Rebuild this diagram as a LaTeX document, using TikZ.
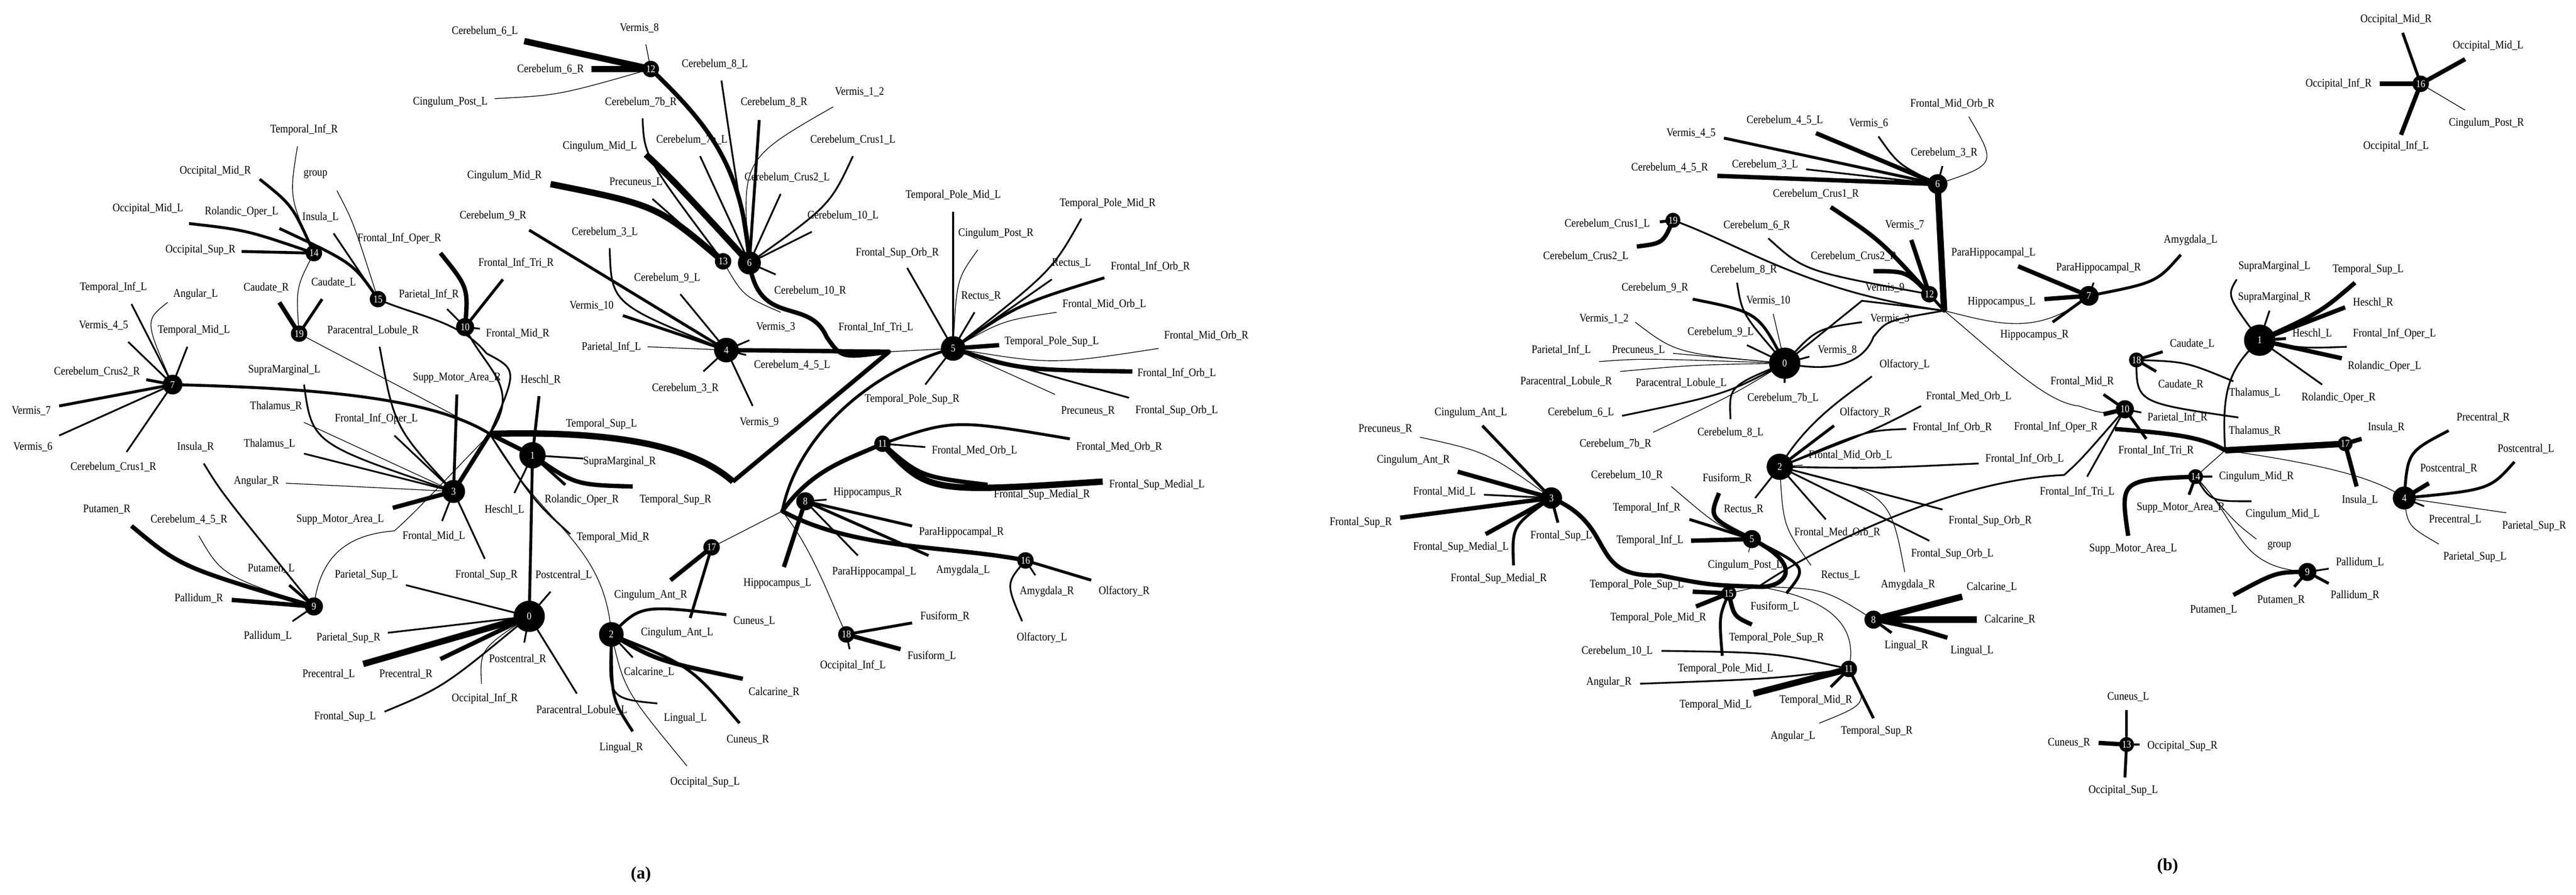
\documentclass[tikz,border=0pt]{standalone}
\usepackage{fontspec}
\setmainfont{Liberation Serif}[FakeStretch=0.88]
\newfontfamily\capf{Liberation Serif}
\pgfdeclarelayer{bg}
\pgfsetlayers{bg,main}
\tikzset{
 c/.style={circle,fill=black,text=white,inner sep=0pt,minimum size=#1*0.1cm,font=\fontsize{18}{18}\selectfont},
 hub/.style={circle,fill=black,inner sep=0pt,minimum size=0.25cm},
 lbl/.style={font=\fontsize{20}{20}\selectfont,inner sep=0pt},
 w0/.style={line width=1.2pt},
 w1/.style={line width=3pt},
 w2/.style={line width=5pt},
 w3/.style={line width=7.5pt},
 w4/.style={line width=11pt},
 w5/.style={line width=15pt},
 line cap=butt
}
\newcounter{lb}
\newcommand\Lb[2]{\stepcounter{lb}\node[lbl] (lb\arabic{lb}) at (#1) {#2};}
\newcommand\Sk[5]{\draw[#5] (#1.center) -- (#2); \Lb{#3}{#4}}
\newcommand\Sc[6]{\draw[#6] (#1.center) .. controls (#2) .. (#3); \Lb{#4}{#5}}
\begin{document}
\catcode`\_=12
\begin{tikzpicture}[x=0.1cm,y=-0.1cm]
\begin{pgfonlayer}{bg}
\fill[white] (0,0) rectangle (1567.5,544.5);
\end{pgfonlayer}
\useasboundingbox (0,0) rectangle (1567.5,544.5);
% ---------------- panel (a) nodes
\node[c=10] (a12) at (396,42) {12};
\node[c=14] (a6) at (456,160) {6};
\node[c=10] (a13) at (440,159) {13};
\node[c=15] (a4) at (442,213) {4};
\node[c=15] (a5) at (580,212) {5};
\node[c=12] (a7) at (105,234) {7};
\node[c=10] (a14) at (191,154) {14};
\node[c=10] (a15) at (230,182) {15};
\node[c=11] (a10) at (283,199) {10};
\node[c=10] (a19) at (182,203) {19};
\node[c=14] (a3) at (276,299) {3};
\node[c=16] (a1) at (324,277) {1};
\node[c=11] (a9) at (191,369) {9};
\node[c=19] (a0) at (322,375) {0};
\node[c=15] (a2) at (372,386) {2};
\node[c=10] (a17) at (433,333) {17};
\node[c=11] (a8) at (490,305) {8};
\node[c=10] (a11) at (537,270) {11};
\node[c=10] (a16) at (624,341) {16};
\node[c=10] (a18) at (515,386) {18};
\node[hub] (hA) at (541,214) {};
\node[hub,minimum size=0.1cm] (vA) at (446,293) {};
\node[hub] (h1) at (298,264) {};
\node[hub] (h8) at (476,311) {};
% ---------------- panel (b) nodes
\node[c=12] (b6) at (1179,112) {6};
\node[c=9] (b19) at (1018,134) {19};
\node[c=10] (b12) at (1174,179) {12};
\node[c=19] (b0) at (1086,221) {0};
\node[c=10] (b16) at (1473,51) {16};
\node[c=12] (b7) at (1271,180) {7};
\node[c=19] (b1) at (1375,207) {1};
\node[c=9] (b18) at (1300,219) {18};
\node[c=11] (b10) at (1293,249) {10};
\node[c=9] (b17) at (1427,270) {17};
\node[c=9] (b14) at (1336,290) {14};
\node[c=14] (b4) at (1463,303) {4};
\node[c=11] (b9) at (1404,348) {9};
\node[c=9] (b13) at (1294,453) {13};
\node[c=13] (b3) at (944,303) {3};
\node[c=16] (b2) at (1083,284) {2};
\node[c=11] (b5) at (1066,328) {5};
\node[c=9] (b15) at (1052,361) {15};
\node[c=11] (b8) at (1140,377) {8};
\node[c=10] (b11) at (1125,407) {11};
\node[hub] (hB) at (1183,189) {};
\node[hub] (hC) at (1354,274) {};
\node[hub] (hD) at (1070,357) {};
\coordinate (tB) at (1287,261);
\node[font=\capf\bfseries\fontsize{30}{30}\selectfont] (capA) at (390,532) {(a)};
\node[font=\capf\bfseries\fontsize{30}{30}\selectfont] (capB) at (1319,527) {(b)};
\begin{pgfonlayer}{bg}
% ====== panel (a) links between clusters
\draw[w3] (a12.center) .. controls (430,75) and (452,100) .. (a6.center);
\draw[w3] (a6.center) .. controls (462,200) and (492,180) .. (503,205) .. controls (512,218) .. (hA.center);
\draw[w3] (a4.center) -- (hA.center);
\draw[w3] (hA.center) -- (vA.center);
\draw[w0] (a5.center) -- (hA.center);
\draw[w4] (vA.center) .. controls (420,270) and (370,262) .. (h1.center);
\draw[w0] (a13.center) .. controls (452,180) .. (475,190);
\draw[w2] (a5.center) .. controls (530,225) and (485,265) .. (h8.center);
\draw[w2] (a7.center) .. controls (180,236) and (260,240) .. (h1.center);
\draw[w3] (a3.center) -- (h1.center);
\draw[w3] (h1.center) -- (a1.center);
\draw[w1] (a10.center) .. controls (295,225) and (318,235) .. (h1.center);
\draw[w1] (a15.center) .. controls (252,192) and (280,195) .. (296,215) .. controls (315,225) .. (h1.center);
\draw[w0] (a19.center) -- (h1.center);
\draw[w0] (a14.center) .. controls (180,175) .. (a19.center);
\draw[w0] (a9.center) .. controls (195,335) and (215,325) .. (240,323) .. controls (252,312) .. (h1.center);
\draw[w0] (h1.center) .. controls (330,320) and (368,330) .. (a2.center);
\draw[w2] (a1.center) .. controls (323,330) .. (a0.center);
\draw[w0] (a17.center) -- (h8.center);
\draw[w3] (h8.center) .. controls (495,285) and (515,280) .. (a11.center);
\draw[w3] (h8.center) .. controls (520,335) and (580,332) .. (a16.center);
\draw[w0] (h8.center) .. controls (495,335) and (505,365) .. (a18.center);
% ====== panel (a) spokes
\Sk{a12}{319,25}{295,19}{Cerebelum_6_L}{w4}
\Sk{a12}{360,42}{335,42}{Cerebelum_6_R}{w4}
\Sc{a12}{340,58}{301,60}{274,62}{Cingulum_Post_L}{w0}
\Sk{a12}{393,27}{389,17}{Vermis_8}{w0}
\Lb{435,39}{Cerebelum_8_L}
\Sc{a6}{445,90}{439,49}{431,39}{}{w1}
\Sk{a6}{462,73}{471,62}{Cerebelum_8_R}{w2}
\Sc{a6}{451,97}{507,65}{523,56}{Vermis_1_2}{w0}
\Sc{a6}{505,125}{519,95}{519,85}{Cerebelum_Crus1_L}{w1}
\Sk{a6}{475,118}{479,108}{Cerebelum_Crus2_L}{w1}
\Sk{a6}{494,141}{513,131}{Cerebelum_10_L}{w1}
\Sk{a6}{472,167}{493,177}{Cerebelum_10_R}{w1}
\Sk{a6}{426,95}{421,85}{Cerebelum_7b_L}{w1}
\Sc{a6}{410,110}{393,94}{365,89}{Cingulum_Mid_L}{w4}
\Sc{a13}{392,95}{391,72}{390,62}{Cerebelum_7b_R}{w1}
\Sk{a13}{397,121}{387,111}{Precuneus_L}{w1}
\Sc{a13}{400,125}{335,112}{307,107}{Cingulum_Mid_R}{w4}
\Sc{a4}{372,185}{371,151}{368,141}{Cerebelum_3_L}{w1}
\Sk{a4}{322,140}{300,131}{Cerebelum_9_R}{w2}
\Sk{a4}{379,192}{360,186}{Vermis_10}{w2}
\Sk{a4}{394,211}{372,211}{Parietal_Inf_L}{w0}
\Sk{a4}{414,179}{406,169}{Cerebelum_9_L}{w1}
\Sk{a4}{456,207}{472,199}{Vermis_3}{w1}
\Sk{a4}{454,216}{482,222}{Cerebelum_4_5_L}{w1}
\Sk{a4}{428,226}{417,236}{Cerebelum_3_R}{w1}
\Sk{a4}{458,247}{462,257}{Vermis_9}{w1}
\Lb{533,199}{Frontal_Inf_Tri_L}
\Sk{a5}{580,129}{580,119}{Temporal_Pole_Mid_L}{w1}
\Sc{a5}{582,170}{595,152}{606,142}{Cingulum_Post_R}{w0}
\Sk{a5}{552,163}{546,154}{Frontal_Sup_Orb_R}{w1}
\Sc{a5}{640,165}{658,133}{674,124}{Temporal_Pole_Mid_R}{w1}
\Sk{a5}{640,170}{652,160}{Rectus_L}{w1}
\Sc{a5}{620,185}{672,169}{700,162}{Frontal_Inf_Orb_R}{w2}
\Sk{a5}{593,190}{597,180}{Rectus_R}{w1}
\Sc{a5}{610,195}{643,190}{672,185}{Frontal_Mid_Orb_L}{w0}
\Sk{a5}{608,210}{640,208}{Temporal_Pole_Sup_L}{w3}
\Sc{a5}{640,222}{705,212}{734,204}{Frontal_Mid_Orb_R}{w0}
\Sc{a5}{620,225}{689,226}{716,227}{Frontal_Inf_Orb_L}{w3}
\Sk{a5}{642,240}{662,250}{Precuneus_R}{w0}
\Sk{a5}{687,242}{716,250}{Frontal_Sup_Orb_L}{w1}
\Sk{a5}{563,234}{555,243}{Temporal_Pole_Sup_R}{w1}
\Sk{a7}{80,185}{69,175}{Temporal_Inf_L}{w1}
\Sc{a7}{88,195}{102,184}{119,179}{Angular_L}{w0}
\Sk{a7}{78,208}{63,198}{Vermis_4_5}{w1}
\Sk{a7}{114,211}{118,201}{Temporal_Mid_L}{w1}
\Sk{a7}{89,231}{59,226}{Cerebelum_Crus2_R}{w2}
\Sk{a7}{36,247}{19,250}{Vermis_7}{w2}
\Sk{a7}{36,265}{20,272}{Vermis_6}{w1}
\Sk{a7}{77,275}{69,284}{Cerebelum_Crus1_R}{w1}
\Sc{a14}{176,120}{181,89}{185,79}{Temporal_Inf_R}{w0}
\Sc{a14}{178,125}{158,109}{131,104}{Occipital_Mid_R}{w2}
\Sc{a14}{150,140}{115,136}{90,127}{Occipital_Mid_L}{w2}
\Sk{a14}{147,153}{122,152}{Occipital_Sup_R}{w2}
\Sc{a15}{215,160}{170,139}{147,129}{Rolandic_Oper_L}{w2}
\Sc{a15}{215,135}{205,116}{192,106}{group}{w0}
\Sk{a15}{203,142}{195,132}{Insula_L}{w1}
\Sk{a19}{196,182}{203,172}{Caudate_L}{w2}
\Sk{a19}{170,184}{162,175}{Caudate_R}{w3}
\Sk{a10}{272,188}{261,179}{Parietal_Inf_R}{w1}
\Sc{a10}{285,175}{268,154}{243,145}{Frontal_Inf_Oper_R}{w3}
\Sk{a10}{306,170}{314,160}{Frontal_Inf_Tri_R}{w2}
\Sk{a10}{292,200}{315,203}{Frontal_Mid_R}{w1}
\Sc{a3}{240,260}{231,211}{227,201}{Paracentral_Lobule_R}{w1}
\Sk{a3}{278,240}{278,230}{Supp_Motor_Area_R}{w2}
\Sk{a1}{328,241}{329,231}{Heschl_R}{w2}
\Sc{a3}{190,270}{185,234}{173,225}{SupraMarginal_L}{w1}
\Sk{a3}{185,257}{168,247}{Thalamus_R}{w0}
\Sk{a3}{240,265}{229,255}{Frontal_Inf_Oper_L}{w1}
\Sk{a3}{185,276}{164,270}{Thalamus_L}{w1}
\Sk{a3}{174,294}{156,293}{Angular_R}{w0}
\Sk{a3}{239,309}{207,316}{Supp_Motor_Area_L}{w3}
\Sk{a3}{269,317}{264,326}{Frontal_Mid_L}{w1}
\Sk{a3}{295,340}{296,350}{Frontal_Sup_R}{w1}
\Sc{a9}{135,300}{124,282}{119,272}{Insula_R}{w1}
\Sc{a9}{110,345}{80,320}{65,310}{Putamen_R}{w3}
\Sc{a9}{135,350}{121,326}{115,316}{Cerebelum_4_5_R}{w0}
\Sk{a9}{176,356}{165,346}{Putamen_L}{w2}
\Sk{a9}{141,365}{121,364}{Pallidum_R}{w3}
\Sk{a9}{178,378}{163,387}{Pallidum_L}{w1}
\Lb{366,258}{Temporal_Sup_L}
\Sk{a1}{355,279}{377,281}{SupraMarginal_R}{w1}
\Sc{a1}{350,295}{385,296}{411,304}{Temporal_Sup_R}{w3}
\Sk{a1}{344,295}{354,304}{Rolandic_Oper_R}{w2}
\Sk{a1}{313,300}{307,310}{Heschl_L}{w1}
\Sc{h1}{325,305}{347,325}{373,327}{Temporal_Mid_R}{w1}
\Lb{343,350}{Postcentral_L}
\Sk{a0}{247,356}{223,350}{Parietal_Sup_L}{w1}
\draw[w1] (a0.center) -- (335,360);
\Sk{a0}{236,385}{212,388}{Parietal_Sup_R}{w1}
\Sk{a0}{221,404}{200,410}{Precentral_L}{w4}
\Sk{a0}{268,401}{247,410}{Precentral_R}{w3}
\Sc{a0}{270,418}{234,433}{210,436}{Frontal_Sup_L}{w1}
\Sc{a0}{292,395}{293,416}{295,425}{Occipital_Inf_R}{w0}
\Sk{a0}{319,391}{315,401}{Postcentral_R}{w1}
\Sk{a0}{351,422}{354,432}{Paracentral_Lobule_L}{w1}
\Sc{a2}{390,368}{442,374}{459,378}{Cuneus_L}{w2}
\Lb{412,385}{Cingulum_Ant_L}
\Sk{a17}{408,353}{396,362}{Cingulum_Ant_R}{w3}
\draw[w2] (a17.center) -- (420,376);
\Sk{a2}{385,400}{395,409}{Calcarine_L}{w1}
\Sc{a2}{400,402}{452,413}{471,421}{Calcarine_R}{w3}
\Sc{a2}{420,405}{450,440}{455,450}{Cuneus_R}{w2}
\Sc{a2}{370,425}{400,428}{417,437}{Lingual_L}{w1}
\Sc{a2}{372,425}{385,445}{378,455}{Lingual_R}{w2}
\Sc{a2}{380,420}{418,466}{429,476}{Occipital_Sup_L}{w0}
\Sk{a8}{503,304}{528,300}{Hippocampus_R}{w1}
\Sk{a8}{555,320}{585,324}{ParaHippocampal_R}{w2}
\Sk{a8}{522,338}{532,348}{ParaHippocampal_L}{w1}
\Sk{a8}{565,338}{586,347}{Amygdala_L}{w2}
\Sk{a8}{477,345}{473,355}{Hippocampus_L}{w3}
\Sk{a11}{563,272}{593,274}{Frontal_Med_Orb_L}{w1}
\Sc{a11}{580,255}{651,267}{681,272}{Frontal_Med_Orb_R}{w2}
\Sc{a11}{560,290}{601,295}{634,301}{Frontal_Sup_Medial_R}{w3}
\Sc{a11}{565,300}{671,293}{704,295}{Frontal_Sup_Medial_L}{w4}
\Sk{a16}{630,350}{637,360}{Amygdala_R}{w1}
\Sk{a16}{664,353}{684,360}{Olfactory_R}{w2}
\Sc{a16}{612,355}{622,378}{634,388}{Olfactory_L}{w1}
\Sk{a18}{555,379}{575,375}{Fusiform_R}{w2}
\Sk{a18}{548,395}{567,399}{Fusiform_L}{w3}
\Sk{a18}{517,395}{519,405}{Occipital_Inf_L}{w1}
% ====== panel (b) links between clusters
\draw[w4] (b6.center) -- (hB.center);
\draw[w2] (b12.center) -- (hB.center);
\draw[w1] (b19.center) .. controls (1060,149) and (1100,178) .. (hB.center);
\draw[w1] (b0.center) -- (1133,183) -- (hB.center);
\draw[w1] (b0.center) .. controls (1120,228) and (1135,218) .. (1140,205) .. controls (1148,195) .. (hB.center);
\draw[w0] (hB.center) .. controls (1215,197) and (1240,205) .. (b7.center);
\draw[w0] (hB.center) .. controls (1220,220) and (1245,245) .. (1265,247) .. controls (1280,252) .. (b10.center);
\draw[w3] (tB) .. controls (1325,264) and (1340,266) .. (hC.center);
\draw[w4] (hC.center) -- (b17.center);
\draw[w0] (hC.center) .. controls (1410,282) and (1445,290) .. (b4.center);
\draw[w0] (hC.center) -- (b14.center);
\draw[w1] (hC.center) .. controls (1352,240) and (1355,225) .. (b1.center);
\draw[w0] (b14.center) .. controls (1365,320) and (1360,345) .. (b9.center);
\draw[w3] (b3.center) .. controls (985,320) and (965,352) .. (1010,350) .. controls (1040,356) .. (hD.center);
\draw[w3] (b5.center) .. controls (1100,345) and (1085,358) .. (hD.center);
\draw[w0] (b15.center) -- (hD.center);
\draw[w0] (hD.center) .. controls (1110,358) .. (b8.center);
\draw[w0] (hD.center) .. controls (1120,365) and (1130,385) .. (b11.center);
\draw[w1] (hD.center) .. controls (1110,330) and (1190,292) .. (1256,289) .. controls (1266,280) .. (b10.center);
\draw[w1] (b2.center) .. controls (1100,255) and (1125,240) .. (1139,229);
% ====== panel (b) spokes
\Sk{b6}{1049,84}{1029,81}{Vermis_4_5}{w2}
\Sk{b6}{1105,81}{1086,73}{Cerebelum_4_5_L}{w3}
\Sc{b6}{1155,100}{1143,83}{1137,75}{Vermis_6}{w1}
\Sk{b6}{1099,103}{1074,100}{Cerebelum_3_L}{w1}
\Sk{b6}{1045,107}{1016,102}{Cerebelum_4_5_R}{w3}
\Sk{b6}{1182,101}{1183,93}{Cerebelum_3_R}{w1}
\Sc{b6}{1215,100}{1198,71}{1188,63}{Frontal_Mid_Orb_R}{w0}
\Sc{b12}{1144,146}{1114,126}{1105,118}{Cerebelum_Crus1_R}{w3}
\Sk{b12}{1163,146}{1159,137}{Vermis_7}{w3}
\Sc{b12}{1160,165}{1140,165}{1128,156}{Cerebelum_Crus2_R}{w3}
\Lb{1147,175}{Vermis_9}
\Sk{b19}{1010,135}{978,136}{Cerebelum_Crus1_L}{w2}
\Sc{b19}{1012,148}{996,150}{965,156}{Cerebelum_Crus2_L}{w3}
\Sc{b12}{1098,165}{1076,145}{1069,137}{Cerebelum_6_R}{w1}
\Sc{b0}{1060,191}{1057,172}{1061,164}{Cerebelum_8_R}{w1}
\Sc{b0}{1070,190}{1030,182}{1007,175}{Cerebelum_9_R}{w2}
\Sk{b0}{1079,191}{1076,183}{Vermis_10}{w0}
\Sc{b0}{1020,215}{995,196}{976,194}{Vermis_1_2}{w0}
\Sk{b0}{1063,210}{1047,202}{Cerebelum_9_L}{w1}
\Sc{b0}{1105,200}{1133,196}{1150,194}{Vermis_3}{w1}
\Sk{b0}{1101,217}{1118,213}{Vermis_8}{w1}
\Lb{1159,222}{Olfactory_L}
\Sc{b0}{1000,218}{973,220}{950,213}{Parietal_Inf_L}{w0}
\Sk{b0}{1018,215}{997,213}{Precuneus_L}{w0}
\Sc{b0}{1030,222}{986,226}{953,232}{Paracentral_Lobule_R}{w0}
\Lb{1023,233}{Paracentral_Lobule_L}
\Sk{b0}{1086,233}{1085,242}{Cerebelum_7b_L}{w1}
\Sc{b0}{1050,240}{987,253}{962,251}{Cerebelum_6_L}{w1}
\Sc{b0}{1052,235}{1053,255}{1053,263}{Cerebelum_8_L}{w1}
\Sc{b0}{1055,240}{1006,263}{983,270}{Cerebelum_7b_R}{w0}
\Sk{b7}{1228,162}{1213,154}{ParaHippocampal_L}{w3}
\Sk{b7}{1274,172}{1277,163}{ParaHippocampal_R}{w1}
\Sc{b7}{1312,172}{1327,155}{1333,146}{Amygdala_L}{w2}
\Sk{b7}{1244,182}{1218,184}{Hippocampus_L}{w3}
\Sk{b7}{1249,196}{1238,204}{Hippocampus_R}{w2}
\Sc{b1}{1355,180}{1361,170}{1384,162}{SupraMarginal_L}{w1}
\Sk{b1}{1381,189}{1384,181}{SupraMarginal_R}{w1}
\Sc{b1}{1412,190}{1433,172}{1441,164}{Temporal_Sup_L}{w3}
\Sk{b1}{1427,187}{1444,184}{Heschl_R}{w3}
\Sk{b1}{1391,206}{1407,203}{Heschl_L}{w2}
\Sc{b1}{1400,212}{1428,211}{1457,203}{Frontal_Inf_Oper_L}{w1}
\Sk{b1}{1425,218}{1451,223}{Rolandic_Oper_L}{w3}
\Sk{b1}{1413,234}{1423,242}{Rolandic_Oper_R}{w1}
\Sk{b18}{1316,214}{1334,209}{Caudate_L}{w2}
\Sk{b18}{1312,226}{1327,234}{Caudate_R}{w2}
\Sc{b18}{1330,220}{1359,232}{1372,239}{Thalamus_L}{w1}
\Sc{b18}{1300,245}{1362,254}{1372,262}{Thalamus_R}{w1}
\Sk{b10}{1280,240}{1267,232}{Frontal_Mid_R}{w2}
\Sk{b10}{1303,251}{1325,254}{Parietal_Inf_R}{w1}
\Sk{b10}{1280,252}{1251,260}{Frontal_Inf_Oper_R}{w3}
\Sk{b10}{1306,267}{1312,274}{Frontal_Inf_Tri_R}{w2}
\Sk{b10}{1270,290}{1264,299}{Frontal_Inf_Tri_L}{w1}
\Sk{b17}{1437,267}{1452,260}{Insula_R}{w3}
\Sk{b17}{1434,296}{1436,304}{Insula_L}{w3}
\Sk{b14}{1346,290}{1373,290}{Cingulum_Mid_R}{w1}
\Sk{b14}{1332,301}{1327,309}{Supp_Motor_Area_R}{w2}
\Sc{b14}{1290,292}{1295,326}{1298,334}{Supp_Motor_Area_L}{w3}
\Sc{b14}{1345,305}{1370,305}{1389,313}{Cingulum_Mid_L}{w1}
\Sc{b14}{1360,318}{1373,328}{1387,332}{group}{w0}
\Sk{b9}{1417,346}{1436,342}{Pallidum_L}{w1}
\Sk{b9}{1417,355}{1433,362}{Pallidum_R}{w2}
\Sk{b9}{1396,357}{1388,365}{Putamen_R}{w2}
\Sc{b9}{1385,348}{1359,362}{1347,371}{Putamen_L}{w3}
\Sc{b4}{1465,275}{1490,262}{1511,254}{Precentral_R}{w2}
\Sc{b4}{1515,298}{1530,281}{1537,273}{Postcentral_L}{w2}
\Sk{b4}{1478,294}{1490,285}{Postcentral_R}{w3}
\Sk{b4}{1475,308}{1494,316}{Precentral_L}{w1}
\Sk{b4}{1525,312}{1542,320}{Parietal_Sup_R}{w0}
\Sc{b4}{1465,320}{1484,331}{1506,339}{Parietal_Sup_L}{w0}
\Sk{b16}{1462,20}{1458,12}{Occipital_Mid_R}{w2}
\Sk{b16}{1500,36}{1514,28}{Occipital_Mid_L}{w3}
\Sk{b16}{1448,51}{1423,51}{Occipital_Inf_R}{w3}
\Sk{b16}{1500,67}{1513,75}{Cingulum_Post_R}{w0}
\Sk{b16}{1461,82}{1458,89}{Occipital_Inf_L}{w3}
\Sk{b13}{1294,432}{1295,424}{Cuneus_L}{w2}
\Sk{b13}{1277,452}{1259,452}{Cuneus_R}{w3}
\Sk{b13}{1302,453}{1328,454}{Occipital_Sup_R}{w1}
\Sk{b13}{1293,473}{1292,481}{Occipital_Sup_L}{w2}
\Sk{b3}{902,259}{895,251}{Cingulum_Ant_L}{w2}
\Sc{b3}{905,275}{864,266}{843,261}{Precuneus_R}{w0}
\Sk{b3}{887,287}{860,280}{Cingulum_Ant_R}{w3}
\Sk{b3}{903,301}{879,299}{Frontal_Mid_L}{w1}
\Sk{b3}{852,315}{828,318}{Frontal_Sup_R}{w3}
\Sk{b3}{904,325}{889,333}{Frontal_Sup_Medial_L}{w3}
\Sk{b3}{948,318}{950,326}{Frontal_Sup_L}{w2}
\Sc{b3}{920,320}{921,344}{912,352}{Frontal_Sup_Medial_R}{w2}
\Sk{b2}{1116,259}{1135,251}{Olfactory_R}{w2}
\Sc{b2}{1135,262}{1160,261}{1188,260}{Frontal_Inf_Orb_R}{w1}
\Sc{b2}{1140,262}{1169,247}{1198,241}{Frontal_Med_Orb_L}{w1}
\Sk{b2}{1097,283}{1126,277}{Frontal_Mid_Orb_L}{w0}
\Sc{b2}{1140,285}{1204,282}{1232,279}{Frontal_Inf_Orb_L}{w1}
\Sk{b2}{1182,310}{1211,317}{Frontal_Sup_Orb_R}{w1}
\Sk{b2}{1174,329}{1188,337}{Frontal_Sup_Orb_L}{w1}
\Sk{b2}{1111,316}{1118,324}{Frontal_Med_Orb_R}{w1}
\Sc{b2}{1150,300}{1159,348}{1161,356}{Amygdala_R}{w0}
\Sc{b2}{1085,320}{1102,344}{1120,350}{Rectus_L}{w0}
\Sk{b2}{1068,303}{1061,310}{Rectus_R}{w1}
\Sc{b5}{1100,345}{1087,361}{1080,369}{Fusiform_L}{w2}
\Sc{b5}{1040,315}{1046,300}{1051,291}{Fusiform_R}{w3}
\Sk{b5}{1028,316}{1002,309}{Temporal_Inf_R}{w2}
\Sk{b5}{1029,329}{1004,329}{Temporal_Inf_L}{w3}
\Sk{b5}{1064,336}{1062,344}{Cingulum_Post_L}{w0}
\Sc{b5}{1045,320}{1017,296}{990,289}{Cerebelum_10_R}{w0}
\Sk{b15}{1030,360}{996,356}{Temporal_Pole_Sup_L}{w3}
\Sk{b15}{1032,369}{1009,376}{Temporal_Pole_Mid_R}{w3}
\Sc{b15}{1055,375}{1066,380}{1081,388}{Temporal_Pole_Sup_R}{w3}
\Sc{b15}{1046,375}{1048,399}{1050,407}{Temporal_Pole_Mid_L}{w2}
\Sk{b8}{1194,363}{1212,357}{Calcarine_L}{w4}
\Sk{b8}{1203,377}{1223,377}{Calcarine_R}{w4}
\Sk{b8}{1151,385}{1160,393}{Lingual_R}{w2}
\Sc{b8}{1165,382}{1185,388}{1200,396}{Lingual_L}{w3}
\Sc{b11}{1080,397}{1011,396}{984,396}{Cerebelum_10_L}{w1}
\Sc{b11}{1080,413}{998,416}{979,415}{Angular_R}{w1}
\Sk{b11}{1067,422}{1044,429}{Temporal_Mid_L}{w4}
\Sk{b11}{1114,418}{1105,426}{Temporal_Mid_R}{w2}
\Sk{b11}{1140,437}{1142,445}{Temporal_Sup_R}{w2}
\Sc{b11}{1137,428}{1107,440}{1091,448}{Angular_L}{w0}
\end{pgfonlayer}
\end{tikzpicture}
\end{document}
